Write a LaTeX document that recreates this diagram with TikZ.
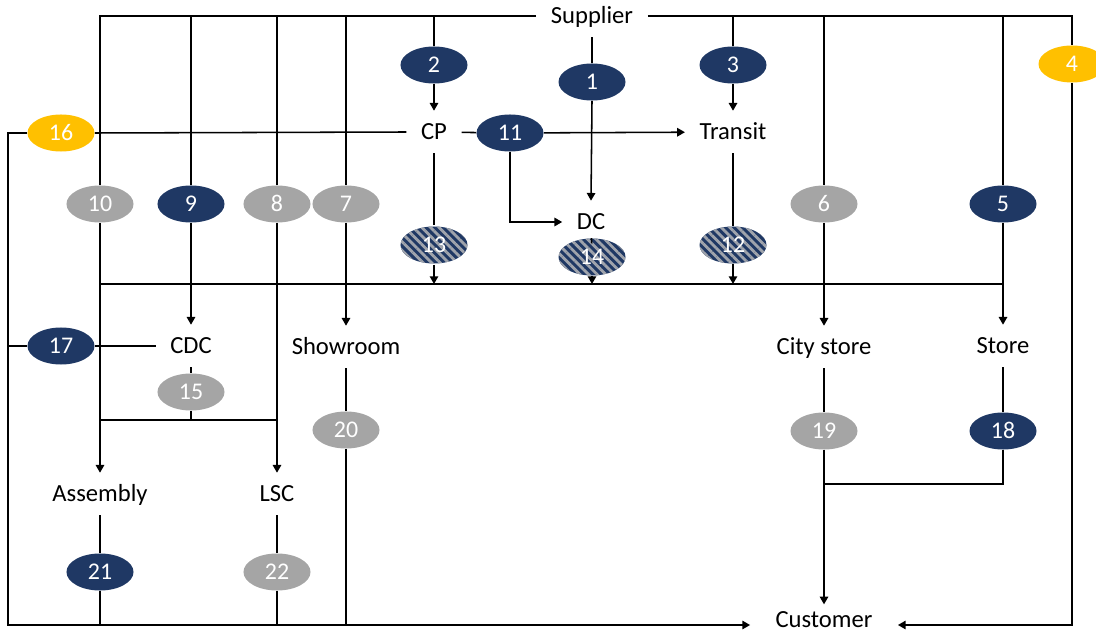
\documentclass[tikz,border=0pt]{standalone}
\usepackage{fontspec}
\setmainfont{Carlito}
\usetikzlibrary{arrows.meta,shapes.geometric,patterns.meta}
\definecolor{navy}{HTML}{1F3864}
\definecolor{grayc}{HTML}{A5A5A5}
\definecolor{yel}{HTML}{FFC000}
\definecolor{hatchc}{HTML}{A0A4AC}
\tikzset{
  lbl/.style={inner xsep=0.36cm, inner ysep=0pt, minimum height=1.05cm,
    text height=12pt, text depth=0.8pt, font=\fontsize{17.5pt}{20pt}\selectfont},
  ov/.style={ellipse, minimum width=1.675cm, minimum height=0.925cm, inner sep=0pt,
    text=white, text height=10.7pt, text depth=0pt, font=\fontsize{17pt}{20pt}\selectfont},
  nv/.style={ov, fill=navy},
  gr/.style={ov, fill=grayc},
  yl/.style={ov, fill=yel},
  ht/.style={ov, preaction={fill=navy}, pattern={Lines[angle=-45,distance=4.3pt,line width=2pt]}, pattern color=hatchc},
  ln/.style={draw, line width=1.1pt},
  ar/.style={ln, -{Triangle[length=5.5pt,width=6pt]}}
}
\begin{document}
\begin{tikzpicture}[x=0.025cm,y=-0.025cm]
\useasboundingbox (0,0) rectangle (1096,635);
% text nodes
\node[lbl] (Supplier) at (592,16) {Supplier};
\node[lbl] (CP) at (434,132) {CP};
\node[lbl] (Transit) at (733,132) {Transit};
\node[lbl] (DC) at (591,222) {DC};
\node[lbl] (CDC) at (191,346) {CDC};
\node[lbl] (Showroom) at (346,347) {Showroom};
\node[lbl] (Citystore) at (824,347) {City store};
\node[lbl] (Store) at (1003,346) {Store};
\node[lbl] (Assembly) at (100,494) {Assembly};
\node[lbl] (LSC) at (277,494) {LSC};
\node[lbl, inner xsep=0.63cm, minimum height=0pt, text height=12pt, text depth=0pt] (Customer) at (824,619.5) {Customer};
% ellipses
\node[nv] (e1) at (592,82) {1};
\node[nv] (e2) at (434,65) {2};
\node[nv] (e3) at (733,65) {3};
\node[yl] (e4) at (1072,64) {4};
\node[yl] (e16) at (61,133) {16};
\node[nv] (e11) at (510,133) {11};
\node[gr] (e10) at (100,204) {10};
\node[nv] (e9) at (191,204) {9};
\node[gr] (e8) at (277,204) {8};
\node[gr] (e7) at (346,204) {7};
\node[gr] (e6) at (824,204) {6};
\node[nv] (e5) at (1003,204) {5};
\node[ht] (e13) at (434,245) {13};
\node[ht] (e14) at (592,257) {14};
\node[ht] (e12) at (733,245) {12};
\node[nv] (e17) at (61,346) {17};
\node[gr] (e15) at (191,392) {15};
\node[gr] (e20) at (346,430) {20};
\node[gr] (e19) at (824,431) {19};
\node[nv] (e18) at (1003,431) {18};
\node[nv] (e21) at (100,572) {21};
\node[gr] (e22) at (277,572) {22};
% helper coordinates
\coordinate (bl) at (8,625);
\coordinate (br) at (1072,625);
\coordinate (bus) at (592,284);
\coordinate (b15) at (191,420);
\coordinate (j19) at (824,484);
% top bus from Supplier
\draw[ln] (Supplier.west) -| (e10.north);
\draw[ln] (Supplier.east) -| (e4.north);
\foreach \n in {e9,e8,e7,e2,e3,e6,e5}{
  \draw[ln] (\n.north |- Supplier) -- (\n.north);
}
\draw[ln] (Supplier.south) -- (e1.north);
\draw[ar] (e1.south) -- (DC.north);
\draw[ar] (e2) -- (CP);
\draw[ar] (e3) -- (Transit);
% CP row
\draw[ln] (CP) -- (e11);
\draw[ar] (e11) -- (Transit);
\draw[ar] (e11.south) |- (DC.west);
\draw[ln] (CP.west) -- (e16.east);
\draw[ar] (e16.west) -| (bl) -- (bl -| Customer.west);
% second row flows
\draw[ar] (e10.south) -- (Assembly.north);
\draw[ar] (e9) -- (CDC);
\draw[ar] (e8) -- (LSC);
\draw[ar] (e7) -- (Showroom);
\draw[ar] (e6) -- (Citystore);
\draw[ar] (e5) -- (Store);
% middle bus
\draw[ln] (bus -| e10.south) -- (bus -| e5.south);
\draw[ln] (CP) -- (e13);
\draw[ar] (e13.south) -- (e13.south |- bus);
\draw[ln] (DC) -- (e14);
\draw[ar] (e14.south) -- (e14.south |- bus);
\draw[ln] (Transit) -- (e12);
\draw[ar] (e12.south) -- (e12.south |- bus);
% CDC
\draw[ln] (CDC.west) -- (e17.east);
\draw[ln] (e17.west) -- (e17.west -| bl);
\draw[ln] (CDC) -- (e15);
\draw[ln] (e15.south) -- (b15);
\draw[ln] (b15 -| e10.south) -- (b15 -| e8.south);
% to customer
\draw[ln] (Showroom) -- (e20);
\draw[ln] (e20.south) -- (e20.south |- bl);
\draw[ln] (Assembly) -- (e21);
\draw[ln] (e21.south) -- (e21.south |- bl);
\draw[ln] (LSC) -- (e22);
\draw[ln] (e22.south) -- (e22.south |- bl);
\draw[ln] (Citystore) -- (e19);
\draw[ar, shorten >=0.16cm] (e19) -- (Customer.north);
\draw[ln] (Store) -- (e18);
\draw[ln] (e18.south) |- (j19);
\draw[ar] (e4.south) -- (br) -- (br -| Customer.east);
\end{tikzpicture}
\end{document}
